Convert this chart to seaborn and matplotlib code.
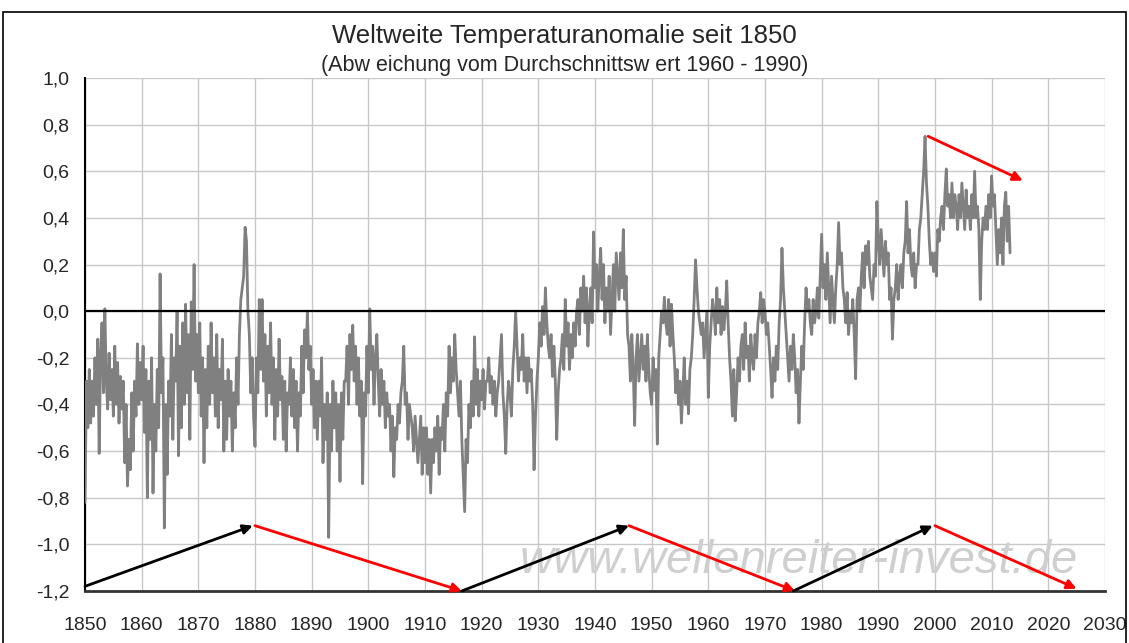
import numpy as np
import pandas as pd
import matplotlib
matplotlib.use("Agg")
import matplotlib.pyplot as plt
from matplotlib.patches import Rectangle
import seaborn as sns

# Quarterly anomaly values (deg C), starting 1850
anomaly = [
    -0.82, -0.30, -0.50, -0.25,  -0.48, -0.30, -0.45, -0.20,  -0.40, -0.12, -0.61, -0.18,
    -0.05, -0.35, 0.01, -0.30,  -0.42, -0.18, -0.38, -0.25,  -0.45, -0.15, -0.40, -0.22,
    -0.48, -0.28, -0.42, -0.30,  -0.65, -0.40, -0.75, -0.55,  -0.68, -0.35, -0.60, -0.30,
    -0.45, -0.14, -0.40, -0.22,  -0.38, -0.15, -0.52, -0.25,  -0.80, -0.30, -0.55, -0.20,
    -0.78, -0.40, -0.60, -0.25,  -0.50, 0.16, -0.35, -0.20,  -0.93, -0.40, -0.70, -0.30,
    -0.45, -0.10, -0.55, -0.20,  -0.30, 0.00, -0.62, -0.15,  -0.50, -0.05, -0.40, 0.03,
    -0.35, -0.10, -0.55, 0.04,  -0.25, 0.20, -0.30, -0.10,  -0.35, -0.05, -0.45, -0.20,
    -0.65, -0.25, -0.50, -0.15,  -0.40, -0.05, -0.35, -0.20,  -0.45, -0.10, -0.50, -0.25,
    -0.38, -0.12, -0.60, -0.30,  -0.55, -0.25, -0.45, -0.30,  -0.60, -0.35, -0.50, -0.20,
    -0.40, -0.10, 0.05, 0.10,  0.15, 0.36, 0.30, 0.00,  -0.10, -0.35, -0.20, -0.45,
    # 1880
    -0.58, -0.20, -0.35, 0.05,  -0.25, 0.05, -0.30, -0.10,  -0.45, -0.15, -0.35, -0.05,
    -0.40, -0.20, -0.55, -0.25,  -0.45, -0.12, -0.38, -0.28,  -0.55, -0.30, -0.60, -0.35,
    -0.40, -0.20, -0.45, -0.25,  -0.50, -0.30, -0.60, -0.35,  -0.45, -0.15, -0.35, -0.08,
    -0.20, 0.00, -0.25, -0.15,  -0.40, -0.25, -0.50, -0.30,  -0.55, -0.30, -0.45, -0.20,
    -0.65, -0.40, -0.55, -0.35,  -0.97, -0.40, -0.60, -0.30,  -0.50, -0.35, -0.60, -0.40,
    -0.73, -0.35, -0.55, -0.30,  -0.30, -0.15, -0.40, -0.10,  -0.25, -0.06, -0.30, -0.15,
    -0.40, -0.20, -0.45, -0.30,  -0.74, -0.35, -0.45, -0.15,
    # 1900
    -0.35, 0.01, -0.25, -0.15,  -0.40, -0.20, -0.10, -0.30,  -0.45, -0.25, -0.40, -0.30,
    -0.50, -0.35, -0.45, -0.40,  -0.60, -0.45, -0.71, -0.50,  -0.55, -0.40, -0.48, -0.35,
    -0.30, -0.15, -0.40, -0.35,  -0.55, -0.40, -0.45, -0.50,  -0.60, -0.45, -0.55, -0.65,
    -0.55, -0.45, -0.70, -0.50,  -0.65, -0.50, -0.70, -0.55,  -0.78, -0.55, -0.65, -0.50,
    -0.60, -0.45, -0.70, -0.50,  -0.55, -0.40, -0.60, -0.35,  -0.45, -0.15, -0.35, -0.20,
    -0.30, -0.10, -0.25, -0.35,  -0.45, -0.30, -0.55, -0.70,  -0.86, -0.55, -0.65, -0.40,
    -0.50, -0.30, -0.45, -0.11,  -0.40, -0.25, -0.45, -0.30,
    # 1920
    -0.38, -0.25, -0.42, -0.30,  -0.30, -0.20, -0.35, -0.28,  -0.40, -0.30, -0.45, -0.35,
    -0.30, -0.20, -0.10, -0.35,  -0.45, -0.61, -0.40, -0.30,  -0.35, -0.45, -0.25, -0.15,
    0.00, -0.15, -0.30, -0.20,  -0.25, -0.10, -0.30, -0.20,  -0.35, -0.20, -0.30, -0.25,
    -0.40, -0.68, -0.45, -0.30,  -0.20, -0.05, -0.15, 0.02,  -0.10, 0.10, -0.05, -0.15,
    -0.20, -0.10, -0.28, -0.15,  -0.30, -0.55, -0.35, -0.25,  -0.20, -0.10, -0.25, 0.05,
    -0.15, -0.05, -0.25, -0.10,  -0.20, -0.05, -0.15, 0.00,  0.05, -0.10, 0.10, 0.00,
    0.15, -0.05, 0.10, -0.15,  0.00, 0.10, -0.05, 0.34,
    # 1940
    0.10, 0.20, 0.00, 0.15,  0.27, 0.05, 0.20, -0.05,  0.10, 0.00, 0.15, -0.10,
    0.05, 0.20, 0.00, 0.25,  0.15, 0.05, 0.25, 0.10,  0.35, 0.05, 0.15, -0.10,
    -0.15, -0.30, -0.10, -0.25,  -0.49, -0.20, -0.10, -0.30,  -0.20, -0.10, -0.25, -0.15,
    -0.30, -0.10, -0.25, -0.35,  -0.40, -0.20, -0.34, -0.25,  -0.57, -0.20, -0.10, 0.00,
    -0.05, 0.06, -0.05, -0.10,  0.05, -0.15, 0.03, -0.10,  -0.20, -0.35, -0.25, -0.40,
    -0.30, -0.48, -0.35, -0.20,  -0.40, -0.30, -0.44, -0.25,  -0.20, -0.10, 0.05, 0.22,
    0.10, 0.00, -0.05, -0.10,  -0.05, -0.20, -0.10, 0.00,
    # 1960
    -0.37, -0.15, -0.05, 0.05,  0.00, -0.10, 0.10, -0.05,  0.05, -0.10, 0.02, -0.08,
    0.00, 0.13, -0.05, -0.20,  -0.30, -0.45, -0.25, -0.47,  -0.35, -0.20, -0.30, -0.15,
    -0.10, -0.25, -0.05, -0.20,  -0.15, -0.30, -0.10, -0.20,  -0.25, -0.10, -0.20, -0.05,
    0.00, 0.08, -0.05, 0.05,  0.00, -0.10, -0.05, -0.15,  -0.25, -0.37, -0.20, -0.30,
    -0.15, -0.25, -0.05, 0.05,  0.27, 0.10, 0.00, -0.10,  -0.20, -0.30, -0.15, -0.25,
    -0.10, -0.20, -0.35, -0.25,  -0.48, -0.30, -0.15, -0.25,  -0.05, 0.10, 0.00, 0.05,
    -0.05, -0.10, 0.05, -0.05,  0.00, 0.10, -0.03, 0.15,
    # 1980
    0.33, 0.10, 0.20, 0.05,  0.25, 0.10, -0.05, 0.15,  0.05, -0.05, 0.10, 0.20,
    0.38, 0.20, 0.25, 0.10,  0.05, -0.05, 0.08, -0.10,  0.00, -0.05, 0.05, -0.10,
    -0.29, 0.05, 0.10, 0.00,  0.15, 0.25, 0.10, 0.28,  0.20, 0.30, 0.15, 0.10,
    0.05, 0.20, 0.15, 0.47,  0.30, 0.20, 0.35, 0.25,  0.15, 0.30, 0.20, 0.25,
    0.05, 0.10, -0.12, 0.05,  0.10, 0.20, 0.05, 0.15,  0.20, 0.10, 0.25, 0.30,
    0.47, 0.25, 0.35, 0.20,  0.15, 0.25, 0.10, 0.20,  0.20, 0.35, 0.40, 0.50,
    0.60, 0.75, 0.55, 0.45,  0.30, 0.20, 0.25, 0.17,
    # 2000
    0.25, 0.15, 0.35, 0.30,  0.40, 0.45, 0.35, 0.50,  0.61, 0.45, 0.50, 0.40,
    0.55, 0.40, 0.50, 0.45,  0.35, 0.50, 0.40, 0.55,  0.45, 0.35, 0.52, 0.40,
    0.45, 0.35, 0.50, 0.40,  0.60, 0.40, 0.45, 0.35,  0.05, 0.30, 0.40, 0.35,
    0.45, 0.35, 0.50, 0.40,  0.58, 0.45, 0.50, 0.35,  0.20, 0.35, 0.25, 0.40,
    0.20, 0.45, 0.51, 0.30,  0.45, 0.25,
]
start_year = 1850
years = start_year + np.arange(len(anomaly)) / 4.0

# cycle arrows drawn on the chart (year, anomaly)
cycle_from_year = [1850, 1880, 1916.5, 1946, 1975, 2000]
cycle_from_val = [-1.18, -0.92, -1.20, -0.92, -1.20, -0.92]
cycle_to_year = [1879.6, 1916.5, 1946, 1975.3, 1999.6, 2025]
cycle_to_val = [-0.92, -1.20, -0.92, -1.20, -0.92, -1.19]
cycle_color = ["black", "red", "black", "red", "black", "red"]
recent_from = (1998.8, 0.75)
recent_to = (2015.5, 0.56)

x_ticks = list(range(1850, 2031, 10))
y_ticks = [-1.2, -1.0, -0.8, -0.6, -0.4, -0.2, 0.0, 0.2, 0.4, 0.6, 0.8, 1.0]

df = pd.DataFrame({"Jahr": years, "Anomalie": anomaly})

sns.set_style("white")
plt.rcParams["font.family"] = ["Liberation Sans", "DejaVu Sans"]

fig = plt.figure(figsize=(11.29, 6.43), dpi=100)
ax = fig.add_axes([0.0753, 0.0809, 0.9034, 0.7978])

sns.lineplot(data=df, x="Jahr", y="Anomalie", color="#808080", linewidth=2.0,
             estimator=None, sort=False, ax=ax, zorder=3)

ax.set_xlim(1850, 2030)
ax.set_ylim(-1.2, 1.0)
ax.set_xticks(x_ticks)
ax.set_yticks(y_ticks)
ax.set_yticklabels([f"{v:.1f}".replace(".", ",") for v in y_ticks])
ax.tick_params(axis="both", labelsize=14, direction="out", length=5, width=1, color="black")
ax.tick_params(axis="x", pad=14)
ax.tick_params(axis="y", pad=6)
ax.grid(True, color="#c8c8c8", linewidth=1.0)
ax.set_axisbelow(True)
ax.set_xlabel("")
ax.set_ylabel("")
for side in ["top", "right"]:
    ax.spines[side].set_visible(False)
ax.spines["left"].set_color("black")
ax.spines["left"].set_linewidth(1.5)
ax.spines["bottom"].set_color("#333333")
ax.spines["bottom"].set_linewidth(2)
ax.axhline(0, color="black", linewidth=1.6, zorder=4)

for x0, y0, x1, y1, c in zip(cycle_from_year, cycle_from_val, cycle_to_year, cycle_to_val, cycle_color):
    ax.annotate("", xy=(x1, y1), xytext=(x0, y0), zorder=5, annotation_clip=False,
                arrowprops=dict(arrowstyle="-|>", color=c, lw=2, mutation_scale=14, shrinkA=0, shrinkB=0))
ax.annotate("", xy=recent_to, xytext=recent_from, zorder=5,
            arrowprops=dict(arrowstyle="-|>", color="red", lw=2, mutation_scale=14, shrinkA=0, shrinkB=0))

ax.text(1976, -1.07, "www.wellenreiter-invest.de", fontsize=34, style="italic",
        color="#cfcfcf", ha="center", va="center", zorder=2)

fig.text(0.5, 0.944, "Weltweite Temperaturanomalie seit 1850", ha="center", va="center", fontsize=18.5)
fig.text(0.5, 0.898, "(Abw eichung vom Durchschnittsw ert 1960 - 1990)", ha="center", va="center", fontsize=15.5)

fig.patches.append(Rectangle((0.003, -0.01), 0.994, 0.992, transform=fig.transFigure,
                             fill=False, edgecolor="black", linewidth=1.2))

fig.savefig("out.png", dpi=100)
